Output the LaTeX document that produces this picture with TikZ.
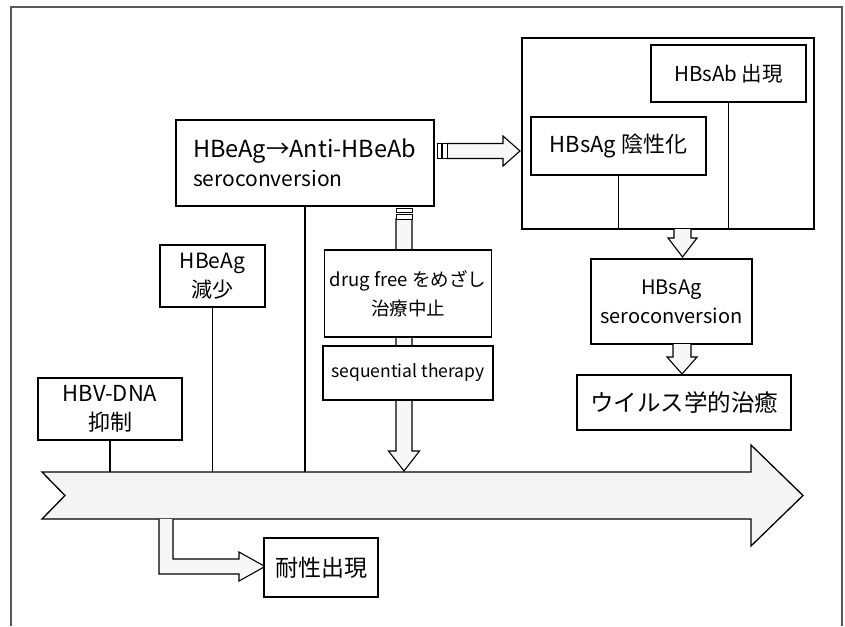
\documentclass[tikz,border=0pt]{standalone}
\usepackage{fontspec}
\setmainfont{Noto Sans CJK JP}
\usetikzlibrary{calc}
\tikzset{
  box/.style={draw, fill=white, line width=1.1pt, inner sep=0pt, align=center,
    font=\fontsize{#1}{29}\selectfont},
  box/.default=20,
  link/.style={line width=1.1pt},
  blockarrow/.style={draw, line width=1.1pt, fill=gray!6, line join=miter},
  bararrow/.style={draw, line width=1.3pt, fill=gray!9, line join=miter},
}
\begin{document}
\begin{tikzpicture}[x=1pt,y=-1pt]
\useasboundingbox (0,0) rectangle (845,626);
% outer frame
\draw[line width=1.1pt, gray!70!black] (11,626) -- (11,7) -- (842,7) -- (842,626);

% main time bar arrow
\draw[bararrow] (42,472) -- (751,472) -- (751,445) -- (803,495.5) -- (751,546) -- (751,519) -- (42,519) -- (65,495.5) -- cycle;
\coordinate (bartop) at (0,472);

% long down arrow from seroconversion to the bar (behind boxes)
\draw[blockarrow] (396,219) -- (396,451) -- (388.5,451) -- (404,471) -- (419.5,451) -- (412,451) -- (412,219) -- cycle;
\draw[line width=1pt, fill=white] (396,208) rectangle (412,212.5);
\draw[line width=1pt, fill=white] (396,214.5) rectangle (412,219);

% right arrow from seroconversion to big box
\draw[blockarrow] (447,143.5) -- (503,143.5) -- (503,136) -- (520,151) -- (503,166) -- (503,158.5) -- (447,158.5) -- cycle;
\draw[line width=1pt, fill=white] (437,143.5) rectangle (441.5,158.5);
\draw[line width=1pt, fill=white] (442.5,143.5) rectangle (447,158.5);

% bent arrow to resistance
\draw[blockarrow] (159,519) -- (159,574) -- (239,574) -- (239,581) -- (265,566.5) -- (239,552) -- (239,559) -- (173,559) -- (173,519);

% boxes on the left
\node[box=22, minimum width=144, minimum height=62] (hbv) at (110,409) {HBV-DNA\\抑制};
\node[box=21, minimum width=105, minimum height=62] (hbe) at (212.5,276) {HBeAg\\減少};
\node[box, minimum width=258, minimum height=86, align=left, text width=224] (sero) at (305,163)
  {\mbox{\fontsize{23.5}{29}\selectfont HBeAg→Anti-HBeAb}\\\mbox{\fontsize{21}{29}\selectfont seroconversion}};
\node[box=18.5, minimum width=167, minimum height=87] (drug) at (408,293.5) {drug free をめざし\\治療中止};
\node[box=17.5, minimum width=170, minimum height=54] (seq) at (408,373) {sequential therapy};
\node[box=23, minimum width=114, minimum height=59] (tai) at (321,567.5) {耐性出現};

\draw[link] (hbv.south) -- (hbv.south |- bartop);
\draw[link] (hbe.south) -- (hbe.south |- bartop);
\draw[link] (sero.south) -- (sero.south |- bartop);

% right group
\node[draw, line width=1.1pt, fill=white, minimum width=292, minimum height=191, inner sep=0pt] (grp) at (668,133.5) {};
\node[box=20.5, minimum width=155, minimum height=57] (hbsab) at (728.5,73.5) {HBsAb 出現};
\node[box=22, minimum width=175, minimum height=58] (hbsag) at (618.5,146) {HBsAg 陰性化};
\draw[link] (hbsag.south) -- (hbsag.south |- grp.south);
\draw[link] (hbsab.south) -- (hbsab.south |- grp.south);

\node[box=20, minimum width=161, minimum height=85] (hsc) at (671.5,301.5) {HBsAg\\seroconversion};
\node[box=23.5, minimum width=214, minimum height=55] (cure) at (684,402.5) {ウイルス学的治癒};

% small down arrows
\draw[blockarrow] (674,229) -- (674,238) -- (668,238) -- (682.5,257) -- (697,238) -- (691,238) -- (691,229);
\draw[blockarrow] (673,344) -- (673,357) -- (667,357) -- (682,374) -- (697,357) -- (691,357) -- (691,344);
\end{tikzpicture}
\end{document}
